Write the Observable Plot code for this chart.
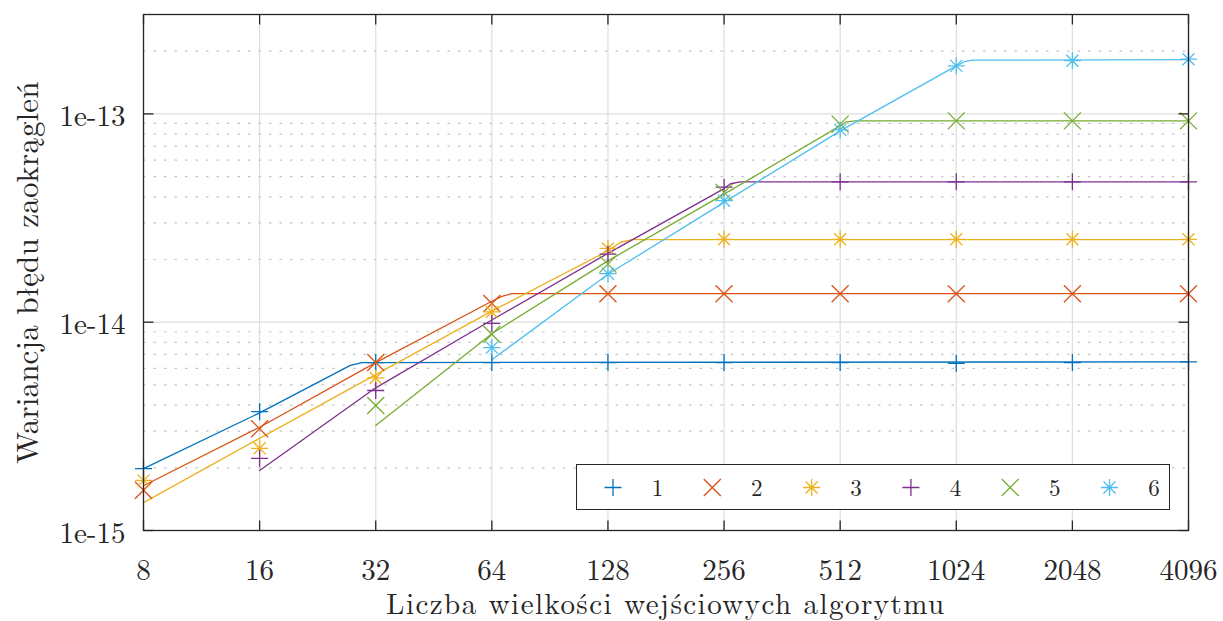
<!DOCTYPE html>
<html>
<head>
<meta charset="utf-8">
<script src="https://cdn.jsdelivr.net/npm/d3@7"></script>
<script src="https://cdn.jsdelivr.net/npm/@observablehq/plot@0.6"></script>
<style>
  html, body { margin: 0; padding: 0; background: #fff; }
  #wrap { position: relative; width: 1223px; height: 621px; overflow: hidden; }
  #legend { position: absolute; left: 576px; top: 464px; width: 594px; height: 46px;
            border: 1.3px solid #262626; background: #fff; box-sizing: border-box; }
  svg { overflow: visible; }
</style>
</head>
<body>
<div id="wrap"><div id="legend"></div></div>
<script>
// ---------- data ----------
const xTicks = [8, 16, 32, 64, 128, 256, 512, 1024, 2048, 4096];
const yMajor = [1e-15, 1e-14, 1e-13];
const yTickLabels = ["1e-15", "1e-14", "1e-13"];
const yMinor = [2e-15, 3e-15, 4e-15, 5e-15, 6e-15, 7e-15, 8e-15, 9e-15,
                2e-14, 3e-14, 4e-14, 5e-14, 6e-14, 7e-14, 8e-14, 9e-14, 2e-13];
const seriesNames = ["1", "2", "3", "4", "5", "6"];
const colors = ["#0072BD", "#D95319", "#EDB120", "#7E2F8E", "#77AC30", "#4DBEEE"];

// measured values (markers), null = no measurement
const meas1 = [1.98e-15, 3.72e-15, 6.4e-15, 6.4e-15, 6.4e-15, 6.4e-15, 6.4e-15, 6.35e-15, 6.4e-15, 6.45e-15];
const meas2 = [1.56e-15, 3.08e-15, 6.4e-15, 1.23e-14, 1.37e-14, 1.37e-14, 1.37e-14, 1.37e-14, 1.37e-14, 1.37e-14];
const meas3 = [1.74e-15, 2.48e-15, 5.4e-15, 1.12e-14, 2.26e-14, 2.5e-14, 2.5e-14, 2.5e-14, 2.5e-14, 2.5e-14];
const meas4 = [null, 2.22e-15, 4.7e-15, 9.87e-15, 2.12e-14, 4.45e-14, 4.72e-14, 4.72e-14, 4.72e-14, 4.72e-14];
const meas5 = [null, null, 3.98e-15, 8.75e-15, 1.9e-14, 4.2e-14, 8.93e-14, 9.26e-14, 9.26e-14, 9.26e-14];
const meas6 = [null, null, null, 7.55e-15, 1.71e-14, 3.83e-14, 8.38e-14, 1.70e-13, 1.80e-13, 1.83e-13];

// model curves (vertices)
const fit1 = [[8, 1.98e-15], [16, 3.67e-15], [27.5, 6.2e-15], [29.5, 6.4e-15], [4096, 6.45e-15]];
const fit2 = [[8, 1.64e-15], [16, 3.13e-15], [32, 6.4e-15], [64, 1.26e-14], [68, 1.33e-14], [72, 1.37e-14], [4096, 1.37e-14]];
const fit3 = [[8, 1.36e-15], [16, 2.77e-15], [32, 5.6e-15], [64, 1.13e-14], [128, 2.2e-14], [138, 2.42e-14], [148, 2.49e-14], [4096, 2.49e-14]];
const fit4 = [[16, 1.94e-15], [32, 4.84e-15], [64, 1.025e-14], [128, 2.14e-14], [256, 4.38e-14], [266, 4.62e-14], [282, 4.72e-14], [4096, 4.72e-14]];
const fit5 = [[32, 3.19e-15], [64, 8.8e-15], [128, 1.97e-14], [256, 4.12e-14], [512, 8.76e-14], [530, 9.15e-14], [560, 9.26e-14], [4096, 9.26e-14]];
const fit6 = [[64, 6.6e-15], [128, 1.70e-14], [256, 3.76e-14], [512, 8.29e-14], [1024, 1.70e-13], [1075, 1.78e-13], [1130, 1.81e-13], [4096, 1.82e-13]];

const xLabel = "Liczba wielkości wejściowych algorytmu";
const yLabel = "Wariancja błędu zaokrągleń";

// ---------- symbols ----------
const symPlus = {draw(c, s) { const r = Math.sqrt(s / Math.PI);
  c.moveTo(-r, 0); c.lineTo(r, 0); c.moveTo(0, -r); c.lineTo(0, r); }};
const symTimes = {draw(c, s) { const r = Math.sqrt(s / Math.PI);
  c.moveTo(-r, -r); c.lineTo(r, r); c.moveTo(-r, r); c.lineTo(r, -r); }};
const symStar = {draw(c, s) { const r = Math.sqrt(s / Math.PI), d = r * Math.SQRT1_2;
  c.moveTo(-r, 0); c.lineTo(r, 0); c.moveTo(0, -r); c.lineTo(0, r);
  c.moveTo(-d, -d); c.lineTo(d, d); c.moveTo(-d, d); c.lineTo(d, -d); }};
const symbols = [symPlus, symTimes, symStar, symPlus, symTimes, symStar];
const tickUp = {draw(c, s) { const r = Math.sqrt(s / Math.PI); c.moveTo(0, 0); c.lineTo(0, -r); }};
const tickDown = {draw(c, s) { const r = Math.sqrt(s / Math.PI); c.moveTo(0, 0); c.lineTo(0, r); }};
const tickRight = {draw(c, s) { const r = Math.sqrt(s / Math.PI); c.moveTo(0, 0); c.lineTo(r, 0); }};
const tickLeft = {draw(c, s) { const r = Math.sqrt(s / Math.PI); c.moveTo(0, 0); c.lineTo(-r, 0); }};

const measAll = [meas1, meas2, meas3, meas4, meas5, meas6];
const fitAll = [fit1, fit2, fit3, fit4, fit5, fit6];

const FONT = "'Latin Modern Roman', 'CMU Serif', 'Liberation Serif', serif";
const INK = "#262626";

const marks = [
  Plot.ruleX(xTicks, {stroke: "#dedede", strokeWidth: 1.2}),
  Plot.ruleY(yMinor, {stroke: "#c4c4c4", strokeWidth: 1.2, strokeDasharray: "2.5,8"}),
  Plot.ruleY(yMajor, {stroke: "#dedede", strokeWidth: 1.2}),
];
fitAll.forEach((f, i) => {
  marks.push(Plot.line(f, {x: d => d[0], y: d => d[1], stroke: colors[i], strokeWidth: 1.3}));
});
measAll.forEach((m, i) => {
  const pts = xTicks.map((x, j) => ({x, y: m[j]})).filter(d => d.y != null);
  marks.push(Plot.dot(pts, {x: "x", y: "y", symbol: () => symbols[i], r: 8.5,
    stroke: colors[i], fill: "none", strokeWidth: 1.3}));
});
marks.push(
  Plot.frame({stroke: INK, strokeWidth: 1.3}),
  Plot.dot(xTicks, {x: d => d, frameAnchor: "bottom", symbol: () => tickUp, r: 10, stroke: INK, fill: "none", strokeWidth: 1.3}),
  Plot.dot(xTicks, {x: d => d, frameAnchor: "top", symbol: () => tickDown, r: 10, stroke: INK, fill: "none", strokeWidth: 1.3}),
  Plot.dot(yMajor, {y: d => d, frameAnchor: "left", symbol: () => tickRight, r: 10, stroke: INK, fill: "none", strokeWidth: 1.3}),
  Plot.dot(yMajor, {y: d => d, frameAnchor: "right", symbol: () => tickLeft, r: 10, stroke: INK, fill: "none", strokeWidth: 1.3}),
  Plot.axisX(xTicks, {anchor: "bottom", tickSize: 0, tickPadding: 29, tickFormat: d => String(d),
    label: null, fontSize: 29, fill: INK}),
  Plot.axisY(yMajor, {anchor: "left", tickSize: 0, tickPadding: 18, dy: 3,
    tickFormat: d => yTickLabels[yMajor.indexOf(d)], label: null, fontSize: 29, fill: INK}),
  Plot.text([xLabel], {frameAnchor: "bottom", dy: 83, lineAnchor: "bottom", textAnchor: "middle",
    text: d => d, fontSize: 29, fill: INK}),
  Plot.text([yLabel], {frameAnchor: "left", dx: -106, rotate: -90, lineAnchor: "bottom", textAnchor: "middle",
    text: d => d, fontSize: 31, fill: INK})
);

const chart = Plot.plot({
  width: 1223, height: 621,
  marginLeft: 143, marginRight: 35, marginTop: 14, marginBottom: 91,
  x: {type: "log", base: 2, domain: [8, 4096]},
  y: {type: "log", domain: [1e-15, 3e-13]},
  style: {fontFamily: FONT, color: INK, background: "#fff", overflow: "visible"},
  marks
});
// letter spacing for the axis titles (the serif fallback is narrower than the original)
d3.select(chart).selectAll("text").each(function () {
  if (this.textContent === xLabel) this.setAttribute("letter-spacing", "1.45px");
  if (this.textContent === yLabel) this.setAttribute("letter-spacing", "0.15px");
});
const wrap = document.getElementById("wrap");
wrap.insertBefore(chart, wrap.firstChild);
chart.style.position = "absolute"; chart.style.left = "0"; chart.style.top = "0";

// ---------- legend (overlay) ----------
const leg = d3.select("#legend").append("svg").attr("width", 592).attr("height", 44)
  .style("font-family", FONT);
const step = 99.3;
seriesNames.forEach((name, i) => {
  const g = leg.append("g").attr("transform", `translate(${36 + i * step},22.5)`);
  g.append("path").attr("d", d3.symbol(symbols[i], 8.5 * 8.5 * Math.PI)())
    .attr("fill", "none").attr("stroke", colors[i]).attr("stroke-width", 1.3);
  g.append("text").attr("x", 44.5).attr("y", 0).attr("dy", "0.35em")
    .attr("text-anchor", "middle").attr("font-size", 23).attr("fill", INK).text(name);
});
</script>
</body>
</html>
